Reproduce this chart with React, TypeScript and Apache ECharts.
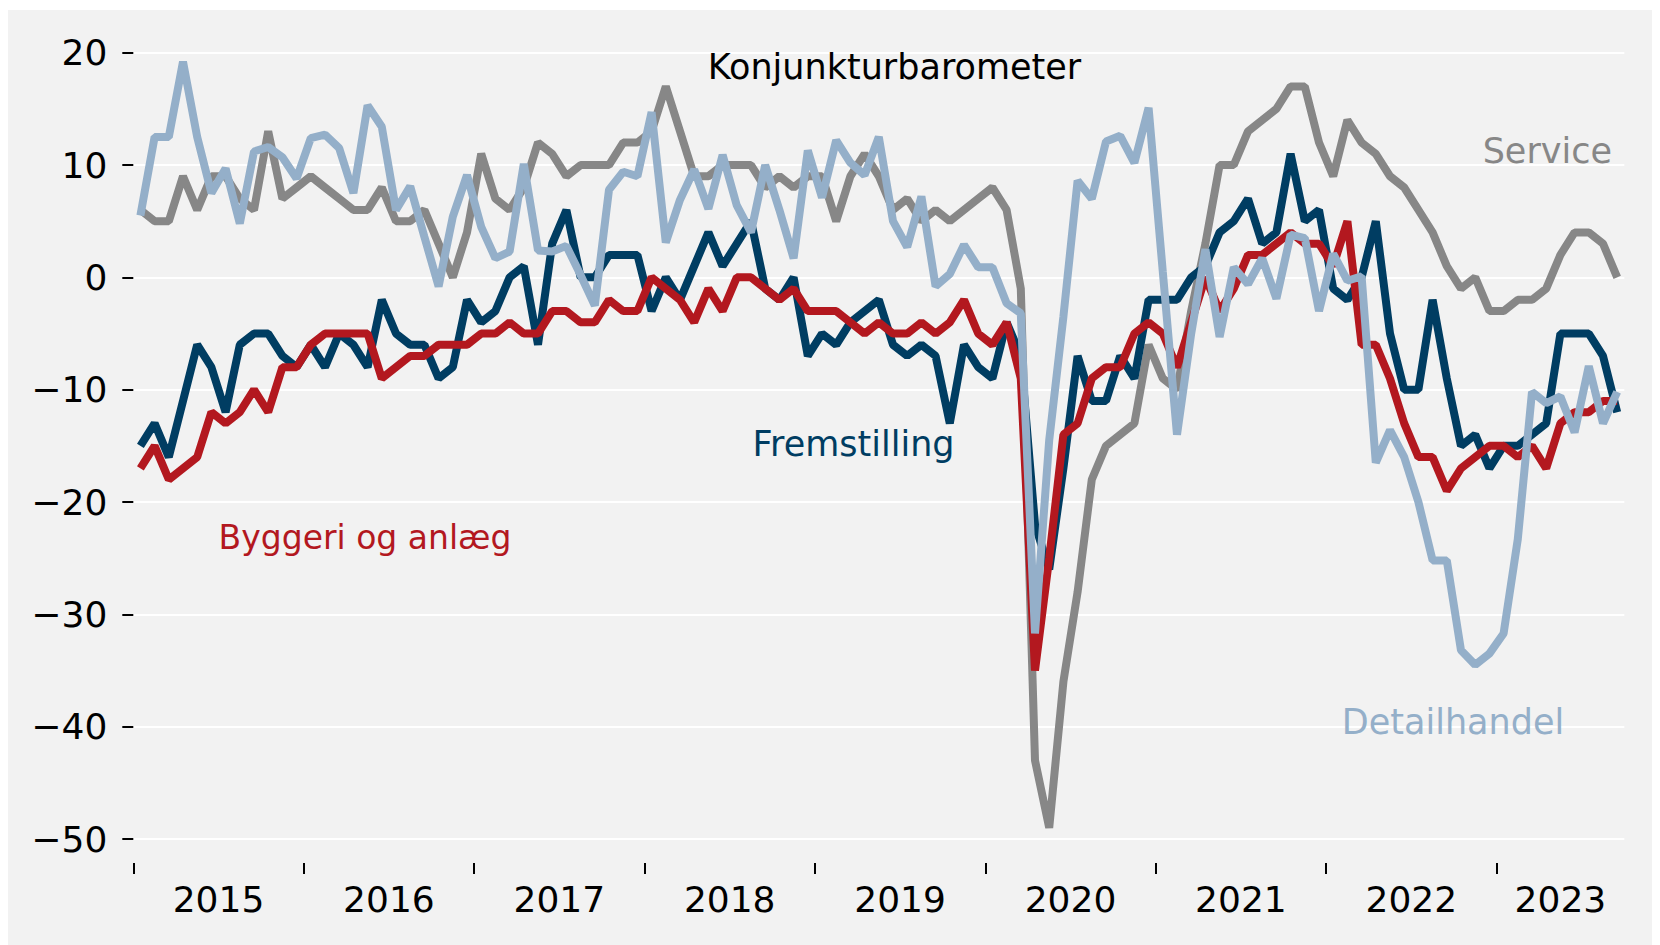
import React, { useEffect, useRef } from "react";
import * as echarts from "echarts";

// Monthly observations, Jan 2015 – Sep 2023 (105 months)
const startYear = 2015;
const monthCount = 105;
const yearTickMonths = [0, 12, 24, 36, 48, 60, 72, 84, 96];
const yearLabelMonths = [6, 18, 30, 42, 54, 66, 78, 90, 100.5];
const yMin = -50;
const yMax = 20;
const yStep = 10;

const chartTitle = "Konjunkturbarometer";
const seriesNames = ["Service", "Fremstilling", "Byggeri og anlæg", "Detailhandel"];

const service = [
  6, 5, 5, 9, 6, 9, 9, 7, 6, 13, 7, 8, 9, 8, 7, 6, 6, 8, 5, 5, 6, 3, 0, 4, 11, 7, 6,
  8, 12, 11, 9, 10, 10, 10, 12, 12, 13, 17, 13, 9, 9, 10, 10, 10, 8, 9, 8, 9,
  9, 5, 9, 11, 9, 6, 7, 5, 6, 5, 6, 7, 8, 6, -1,
  -43, -49, -36, -28, -18, -15, -14, -13, -6, -9, -10, -3, 3,
  10, 10, 13, 14, 15, 17, 17, 12, 9, 14, 12, 11, 9, 8, 6, 4, 1, -1, 0, -3, -3, -2, -2, -1, 2, 4, 4, 3, 0,
];

const fremstilling = [
  -15, -13, -16, -11, -6, -8, -12, -6, -5, -5, -7, -8, -6, -8, -5, -6, -8, -2, -5, -6, -6, -9, -8, -2, -4, -3, 0,
  1, -6, 3, 6, 0, 0, 2, 2, 2, -3, 0, -2, 1, 4, 1, 3, 5, -1, -2, 0,
  -7, -5, -6, -4, -3, -2, -6, -7, -6, -7, -13, -6, -8, -9, -4, -7,
  -22, -26, -17, -7, -11, -11, -7, -9, -2, -2, -2, 0, 1, 4, 5, 7,
  3, 4, 11, 5, 6, -1, -2, 0, 5, -5, -10, -10, -2, -9, -15, -14, -17, -15, -15, -14, -13, -5, -5, -5, -7, -12,
];

const byggeri = [
  -17, -15, -18, -17, -16, -12, -13, -12, -10, -12, -8, -8, -6, -5, -5, -5, -5, -9, -8, -7, -7, -6, -6, -6, -5, -5, -4,
  -5, -5, -3, -3, -4, -4, -2, -3, -3, 0, -1, -2, -4, -1, -3, 0, 0, -1, -2, -1, -3, -3, -3, -4, -5, -4,
  -5, -5, -4, -5, -4, -2, -5, -6, -4, -9,
  -35, -25, -14, -13, -9, -8, -8, -5, -4, -5, -8, -4,
  0, -3, -1, 2, 2, 3, 4, 3, 3, 1, 5, -6, -6, -9, -13, -16, -16, -19, -17, -16, -15, -15, -16, -15, -17, -13, -12, -12, -11, -11,
];

const detailhandel = [
  5.5, 12.5, 12.5, 19.2, 12.5, 7.5, 9.7, 4.8, 11.2, 11.6, 10.7, 8.8, 12.4, 12.7, 11.5, 7.5, 15.3, 13.4, 6, 8.1, 3.6, -0.8, 5.4, 9.1, 4.5, 1.7, 2.3,
  10.1, 2.4, 2.3, 2.8, 0.2, -2.5, 7.8, 9.4, 9, 14.7, 3.1, 6.9, 9.6, 6.1, 10.9, 6.4, 4, 10, 6, 1.7, 11.3, 7.1, 12.2, 10.2, 9.1, 12.5,
  5, 2.7, 7.2, -0.8, 0.3, 2.9, 0.9, 0.9, -2.3, -3.2,
  -31.7, -14.5, -3.5, 8.6, 7, 12.1, 12.6, 10.2, 15.1, 0.5, -14, -5, 2.5, -5.3, 0.9, -0.6,
  1.7, -1.9, 3.8, 3.5, -3, 2.1, -0.3, 0.1, -16.5, -13.6, -16, -20, -25.2, -25.2, -33.2, -34.5, -33.5, -31.7, -23.3, -10.2, -11.2, -10.6, -13.8, -7.9, -13, -10.2,
];

const colors = ["#878787", "#003d62", "#b3181f", "#94afc9"];
const FONT = '"DejaVu Sans", sans-serif';
const LINE_WIDTH = 8;

const toPoints = (arr: number[]) => arr.map((v, i) => [i + 0.5, v]);

export default function App() {
  const ref = useRef<HTMLDivElement>(null);

  useEffect(() => {
    if (!ref.current) return;
    const chart = echarts.init(ref.current, undefined, { renderer: "svg" });
    const allSeries = [service, fremstilling, byggeri, detailhandel];
    const labelText = (text: string, fill: string, x: number, y: number, align: string, size = 35) => ({
      type: "text",
      x,
      y,
      z: 100,
      zlevel: 0,
      style: { text, fill, fontSize: size, fontFamily: FONT, align, verticalAlign: "middle" },
    });
    const option: any = {
      animation: false,
      backgroundColor: "#f2f2f2",
      grid: {
        left: 125.3,
        right: 27.7,
        top: 42.7,
        bottom: 106,
        containLabel: false,
        outerBoundsMode: "none",
      },
      xAxis: {
        type: "value",
        min: 0,
        max: monthCount,
        offset: 24,
        axisLine: { show: false, onZero: false },
        splitLine: { show: false },
        axisTick: {
          show: true,
          length: 11,
          customValues: yearTickMonths,
          lineStyle: { color: "#000", width: 2 },
        },
        axisLabel: {
          customValues: yearLabelMonths,
          margin: 18,
          color: "#000",
          fontFamily: FONT,
          fontSize: 36,
          formatter: (v: number) => String(startYear + Math.floor(v / 12)),
        },
      },
      yAxis: {
        type: "value",
        min: yMin,
        max: yMax,
        interval: yStep,
        axisLine: { show: false },
        axisTick: { show: true, length: 11, lineStyle: { color: "#000", width: 2 } },
        splitLine: { show: true, lineStyle: { color: "#ffffff", width: 2 } },
        axisLabel: {
          margin: 26,
          color: "#000",
          fontFamily: FONT,
          fontSize: 36,
          formatter: (v: number) => (v < 0 ? "\u2212" + Math.abs(v) : String(v)),
        },
      },
      series: allSeries.map((arr, k) => ({
        name: seriesNames[k],
        type: "line",
        data: toPoints(arr),
        showSymbol: false,
        symbol: "none",
        lineStyle: { color: colors[k], width: LINE_WIDTH },
        emphasis: { disabled: true },
        z: 2 + k,
      })),
      graphic: [
        labelText(chartTitle, "#000", 886.5, 57, "center"),
        labelText(seriesNames[0], colors[0], 1604, 140.5, "right"),
        labelText(seriesNames[1], colors[1], 845.5, 434, "center"),
        labelText(seriesNames[2], colors[2], 357, 527, "center", 33),
        labelText(seriesNames[3], colors[3], 1445, 712, "center"),
      ],
    };
    chart.setOption(option);
    return () => chart.dispose();
  }, []);

  return (
    <div
      ref={ref}
      style={{ position: "absolute", left: 8, top: 10, width: 1644, height: 935, background: "#f2f2f2" }}
    />
  );
}
